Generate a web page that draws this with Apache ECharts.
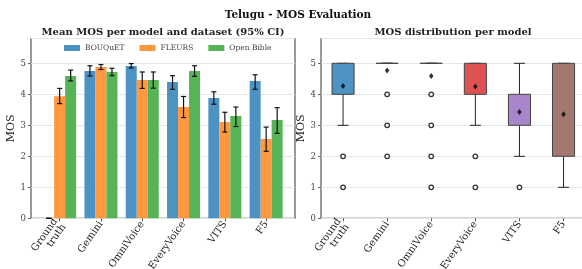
<!DOCTYPE html>
<html lang="en">
<head>
<meta charset="UTF-8">
<title>Telugu - MOS Evaluation</title>
<style>html,body{margin:0;padding:0;background:#fff}</style>
</head>
<body>
<div id="chart" style="width:582px;height:269px;"></div>
<script src="https://cdn.jsdelivr.net/npm/echarts@6/dist/echarts.min.js"></script>
<script>
// categories
const models = ['Ground\ntruth', 'Gemini', 'OmniVoice', 'EveryVoice', 'VITS', 'F5'];
const datasets = ['BOUQuET', 'FLEURS', 'Open Bible'];

// mean MOS per dataset, with 95% CI [low, high]
const meanBouquet = [0.0, 4.75, 4.91, 4.40, 3.88, 4.43];
const meanFleurs = [3.94, 4.88, 4.46, 3.59, 3.11, 2.56];
const meanBible = [4.59, 4.72, 4.46, 4.75, 3.30, 3.17];
const ciBouquet = [[0, 0], [4.59, 4.92], [4.85, 4.99], [4.16, 4.60], [3.68, 4.08], [4.16, 4.63]];
const ciFleurs = [[3.70, 4.19], [4.80, 4.96], [4.19, 4.72], [3.25, 3.93], [2.78, 3.42], [2.16, 2.94]];
const ciBible = [[4.43, 4.78], [4.60, 4.84], [4.20, 4.72], [4.58, 4.92], [2.96, 3.59], [2.74, 3.57]];

// box stats per model: [whisker low, q1, q3, whisker high]
const boxStats = [[3, 4, 5, 5], [5, 5, 5, 5], [5, 5, 5, 5], [3, 4, 5, 5], [2, 3, 4, 5], [1, 2, 5, 5]];
const boxMeans = [4.27, 4.77, 4.59, 4.25, 3.43, 3.36];
const boxOutliers = [[2, 1], [4, 3, 2], [4, 3, 2, 1], [2, 1], [1], []];

const barColors = ['#4c92c3', '#ff983e', '#56b356'];
const boxColors = ['#4c92c3', '#ff983e', '#56b356', '#de5253', '#a985ca', '#a3786f'];

const FONT = 'DejaVu Serif';
const YMAX = 5.8;

const chart = echarts.init(document.getElementById('chart'));

function errorBars(ci, k) {
    return {
        type: 'custom', xAxisIndex: 1, yAxisIndex: 1, z: 10, silent: true,
        data: ci.map((c, i) => [i, c[0], c[1]]),
        renderItem(params, api) {
            const band = api.size([1, 0])[0];
            const off = (k - 1) * band * 0.8 / 3;
            const lo = api.coord([api.value(0), api.value(1)]);
            const hi = api.coord([api.value(0), api.value(2)]);
            const x = lo[0] + off;
            const cap = 2.5;
            const st = {stroke: '#111', lineWidth: 1.2};
            return {type: 'group', children: [
                {type: 'line', shape: {x1: x, y1: lo[1], x2: x, y2: hi[1]}, style: st},
                {type: 'line', shape: {x1: x - cap, y1: lo[1], x2: x + cap, y2: lo[1]}, style: st},
                {type: 'line', shape: {x1: x - cap, y1: hi[1], x2: x + cap, y2: hi[1]}, style: st}
            ]};
        }
    };
}

const boxSeries = {
    type: 'custom', xAxisIndex: 2, yAxisIndex: 2, z: 5, silent: true,
    data: boxStats.map((b, i) => [i].concat(b)),
    renderItem(params, api) {
        const i = api.value(0);
        const band = api.size([1, 0])[0];
        const half = band * 0.25;
        const capHalf = half / 2;
        const pLow = api.coord([i, api.value(1)]);
        const pQ1 = api.coord([i, api.value(2)]);
        const pQ3 = api.coord([i, api.value(3)]);
        const pHigh = api.coord([i, api.value(4)]);
        const x = pLow[0];
        const ln = {stroke: '#222', lineWidth: 1};
        return {type: 'group', children: [
            {type: 'line', shape: {x1: x, y1: pLow[1], x2: x, y2: pQ1[1]}, style: ln},
            {type: 'line', shape: {x1: x, y1: pQ3[1], x2: x, y2: pHigh[1]}, style: ln},
            {type: 'line', shape: {x1: x - capHalf, y1: pLow[1], x2: x + capHalf, y2: pLow[1]}, style: ln},
            {type: 'line', shape: {x1: x - capHalf, y1: pHigh[1], x2: x + capHalf, y2: pHigh[1]}, style: ln},
            {type: 'rect', shape: {x: x - half, y: pQ3[1], width: half * 2, height: pQ1[1] - pQ3[1]},
             style: {fill: boxColors[i], stroke: '#444', lineWidth: 1}}
        ]};
    }
};

const outlierData = [];
boxOutliers.forEach((list, i) => list.forEach(v => outlierData.push([i, v])));

const axisLabelStyle = {fontFamily: FONT, fontSize: 8.5, color: '#444'};

function valueY(gridIndex, showLabels) {
    return {
        type: 'value', gridIndex: gridIndex, min: 0, max: YMAX, interval: 1,
        name: showLabels ? 'MOS' : '', nameLocation: 'middle', nameGap: 9,
        nameTextStyle: {fontFamily: FONT, fontSize: 11, color: '#222'},
        show: showLabels,
        axisLine: {show: false},
        axisTick: {show: true, length: 3, lineStyle: {color: '#666'}},
        axisLabel: Object.assign({margin: 5, showMaxLabel: false}, axisLabelStyle),
        splitLine: {show: showLabels, lineStyle: {color: '#e6e6e6', width: 1}}
    };
}

function catX(gridIndex) {
    return {
        type: 'category', gridIndex: gridIndex, data: models,
        axisLine: {show: false},
        axisTick: {show: true, alignWithLabel: true, length: 3, lineStyle: {color: '#555'}},
        axisLabel: {rotate: 55, margin: 4, fontFamily: FONT, fontSize: 10, color: '#222', lineHeight: 10}
    };
}

const option = {
    animation: false,
    graphic: [
        {type: 'text', x: 298, y: 15, style: {text: 'Telugu - MOS Evaluation', fontFamily: FONT, fontWeight: 'bold', fontSize: 10.5, fill: '#111', textAlign: 'center', textVerticalAlign: 'middle'}},
        {type: 'text', x: 163, y: 32, style: {text: 'Mean MOS per model and dataset (95% CI)', fontFamily: FONT, fontWeight: 'bold', fontSize: 10, fill: '#222', textAlign: 'center', textVerticalAlign: 'middle'}},
        {type: 'text', x: 453, y: 32, style: {text: 'MOS distribution per model', fontFamily: FONT, fontWeight: 'bold', fontSize: 10, fill: '#222', textAlign: 'center', textVerticalAlign: 'middle'}}
    ],
    legend: {
        data: datasets, left: 64, top: 44, padding: 0,
        itemWidth: 16, itemHeight: 6, itemGap: 15, icon: 'rect',
        textStyle: {fontFamily: FONT, fontSize: 7.5, color: '#444'}
    },
    grid: [
        {left: 31, top: 38.5, width: 264, height: 179.8, outerBoundsMode: 'none', containLabel: false, show: true, borderColor: '#555', borderWidth: 1.2, backgroundColor: 'transparent'},
        {left: 39, top: 38.5, width: 247.8, height: 179.8, outerBoundsMode: 'none', containLabel: false},
        {left: 321, top: 38.5, width: 264.6, height: 179.8, outerBoundsMode: 'none', containLabel: false, show: true, borderColor: '#555', borderWidth: 1.2, backgroundColor: 'transparent'}
    ],
    xAxis: [
        {type: 'value', gridIndex: 0, show: false, min: 0, max: 1},
        catX(1),
        catX(2)
    ],
    yAxis: [valueY(0, true), valueY(1, false), valueY(2, true)],
    series: [
        {name: datasets[0], type: 'bar', xAxisIndex: 1, yAxisIndex: 1, data: meanBouquet, barWidth: 11, barGap: '0%', itemStyle: {color: barColors[0]}},
        {name: datasets[1], type: 'bar', xAxisIndex: 1, yAxisIndex: 1, data: meanFleurs, barWidth: 11, barGap: '0%', itemStyle: {color: barColors[1]}},
        {name: datasets[2], type: 'bar', xAxisIndex: 1, yAxisIndex: 1, data: meanBible, barWidth: 11, barGap: '0%', itemStyle: {color: barColors[2]}},
        errorBars(ciBouquet, 0),
        errorBars(ciFleurs, 1),
        errorBars(ciBible, 2),
        boxSeries,
        {type: 'scatter', xAxisIndex: 2, yAxisIndex: 2, z: 8, data: outlierData, symbol: 'circle', symbolSize: 4.5,
         itemStyle: {color: '#fff', borderColor: '#000', borderWidth: 1.3}},
        {type: 'scatter', xAxisIndex: 2, yAxisIndex: 2, z: 9, data: boxMeans.map((m, i) => [i, m]), symbol: 'diamond', symbolSize: [4.5, 6],
         itemStyle: {color: '#000'}}
    ]
};
chart.setOption(option);
</script>
</body>
</html>
